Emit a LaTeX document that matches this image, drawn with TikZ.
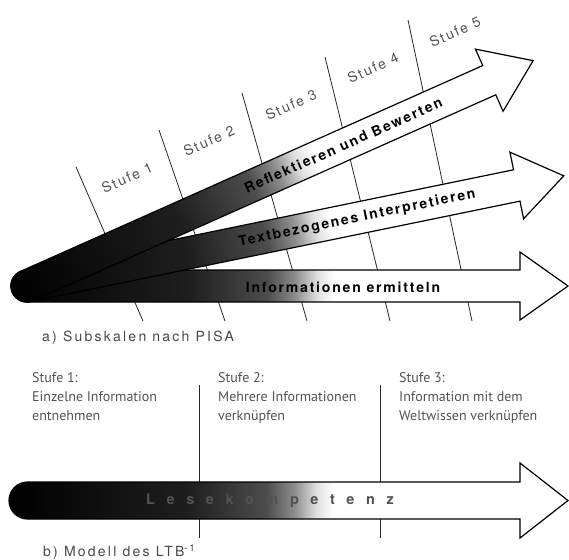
\documentclass[tikz,border=0pt]{standalone}
\usepackage{fontspec}
\setmainfont{TeX Gyre Heros}
\newfontfamily\myriad{PT Sans}
\usetikzlibrary{calc}
\definecolor{schrift}{gray}{0.32}
\definecolor{legende}{gray}{0.28}
\pgfdeclarehorizontalshading{lese}{100bp}{color(0bp)=(black); color(25bp)=(black); color(41bp)=(black!88); color(48bp)=(black!70); color(50.5bp)=(black!45); color(52.5bp)=(black!12); color(54bp)=(white); color(100bp)=(white)}
\tikzset{
  grenze/.style={line width=0.8pt, black!85},
  pfeilrand/.style={line width=1.2pt, black, shading=lese},
  stufenlabel/.style={font=\fontsize{14}{16}\selectfont\addfontfeatures{LetterSpace=14}, text=schrift, rotate=24, inner sep=0pt},
  pfeiltext/.style={font=\bfseries\fontsize{14}{16}\selectfont\addfontfeatures{LetterSpace=13}, text=black, inner sep=0pt},
  spalte/.style={anchor=north west, align=left, font=\myriad\fontsize{14}{19}\selectfont, text=schrift, inner sep=0pt},
  unterschrift/.style={anchor=west, font=\fontsize{14}{16}\selectfont\addfontfeatures{LetterSpace=16}, text=legende, inner sep=0pt}
}
% arrow along +x: #1 half width, #2 half width of the head, #3 length
\newcommand{\pfeil}[3]{\draw[pfeilrand] (0,#1) arc(90:270:#1) -- (#3-48,-#1) -- (#3-48,-#2) -- (#3,0) -- (#3-48,#2) -- (#3-48,#1) -- cycle;}

\begin{document}
\begin{tikzpicture}[x=1pt,y=-1pt]
    \useasboundingbox (0,0) rectangle (569,559);
    \coordinate (ursprung) at (27,286);

    % a) Stufen
    \draw[grenze] (76,167) -- (143,321);
    \draw[grenze] (159,130) -- (225,321);
    \draw[grenze] (242,93) -- (307,321);
    \draw[grenze] (325,57) -- (390,321);
    \draw[grenze] (408,20) -- (472,321);

    \node[stufenlabel] (s1) at (127,178) {Stufe 1};
    \node[stufenlabel] (s2) at (209,141) {Stufe 2};
    \node[stufenlabel] (s3) at (291,105) {Stufe 3};
    \node[stufenlabel] (s4) at (373,68) {Stufe 4};
    \node[stufenlabel] (s5) at (455,32) {Stufe 5};

    % a) Subskalen
    \begin{scope}[transform canvas={shift={(ursprung)}}]
        \pfeil{16}{34}{541}
    \end{scope}
    \begin{scope}[transform canvas={shift={(ursprung)},rotate=11.6}]
        \pfeil{16}{34}{548}
    \end{scope}
    \begin{scope}[transform canvas={shift={(ursprung)},rotate=24}]
        \pfeil{16}{34}{554}
    \end{scope}

    \node[pfeiltext] (info) at ($(ursprung)+(316,1)$) {Informationen ermitteln};
    \node[pfeiltext, rotate=11.6] (text) at ($(ursprung)+(-11.6:337)$) {Textbezogenes Interpretieren};
    \node[pfeiltext, rotate=24] (refl) at ($(ursprung)+(-24:346)$) {Reflektieren und Bewerten};

    \node[unterschrift] (capa) at (42,338) {a) Subskalen nach PISA};

    % b) Modell
    \draw[grenze] (199,385) -- (199,538);
    \draw[grenze] (380,385) -- (380,538);

    \node[spalte] (st1) at (32,372) {Stufe 1:\\Einzelne Information\\entnehmen};
    \node[spalte] (st2) at (218,372) {Stufe 2:\\Mehrere Informationen\\verknüpfen};
    \node[spalte] (st3) at (399,372) {Stufe 3:\\Information mit dem\\Weltwissen verknüpfen};

    \begin{scope}[transform canvas={shift={(27.5,500.5)}}]
        \pfeil{18.5}{37.5}{540.5}
    \end{scope}

    \node[pfeiltext, font=\bfseries\fontsize{14.5}{16}\selectfont\addfontfeatures{LetterSpace=80}, text=black!68] (lese) at (270,500.5) {Lesekompetenz};

    \node[unterschrift] (capb) at (43,552) {b) Modell des LTB\textsuperscript{-1}};
\end{tikzpicture}
\end{document}
